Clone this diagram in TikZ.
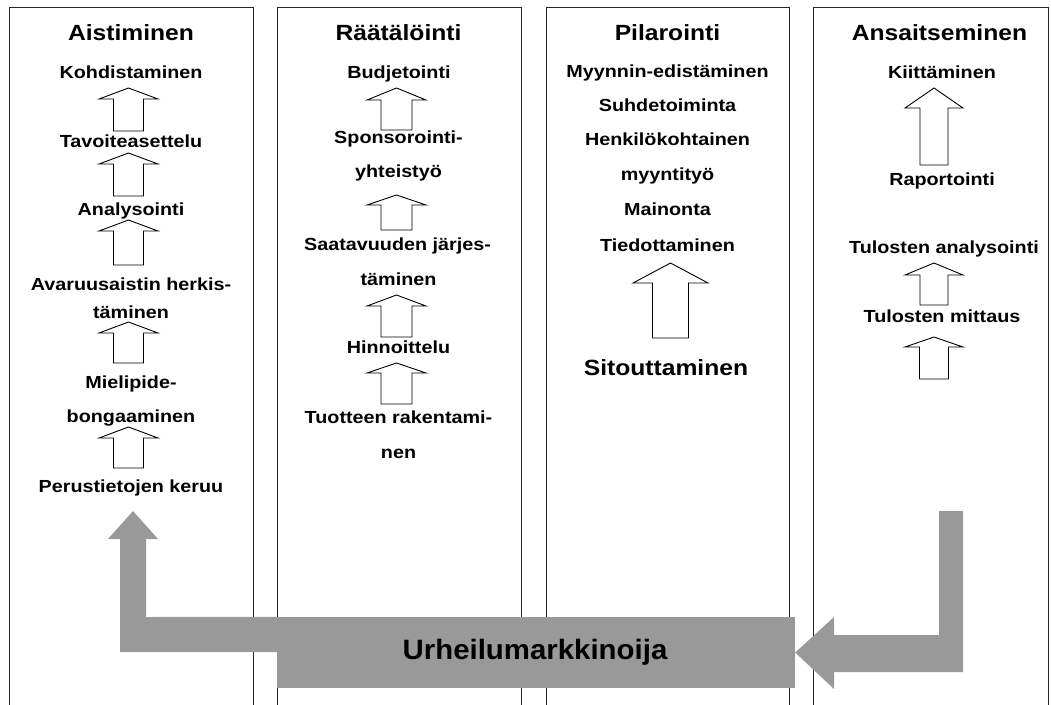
\documentclass[tikz,border=0pt]{standalone}
\usepackage{graphicx}
\usepackage{fontspec}
\setmainfont{Liberation Sans}
\definecolor{arrowgray}{HTML}{999999}
\newcommand{\hollowup}[6]{% cx, tip y, head base y, bottom y, head half width, shaft half width
  \draw[hollow] (#1,#2) -- (#1+#5,#3) -- (#1+#6,#3) -- (#1+#6,#4) -- (#1-#6,#4) -- (#1-#6,#3) -- (#1-#5,#3) -- cycle;}
\begin{document}
\begin{tikzpicture}[x=1pt,y=-1pt,
  colbox/.style={draw=black!85, line width=1pt},
  hollow/.style={draw=black, line width=0.9pt, fill=white, line join=miter},
  grayshape/.style={fill=arrowgray, draw=none},
  head/.style={font=\bfseries\fontsize{22}{26}\selectfont, anchor=base, inner sep=0pt, xscale=1.12},
  item/.style={font=\bfseries\fontsize{17.5}{21}\selectfont, anchor=base, inner sep=0pt, xscale=1.13},
  umtext/.style={font=\bfseries\fontsize{28}{32}\selectfont, anchor=base, inner sep=0pt, xscale=1.05},
]
\useasboundingbox (0,0) rectangle (1051,704);
% column frames
\draw[colbox] (9,712) -- (9,7) -- (253,7) -- (253,712);
\draw[colbox] (277,712) -- (277,7) -- (521,7) -- (521,712);
\draw[colbox] (546,712) -- (546,7) -- (789,7) -- (789,712);
\draw[colbox] (813,712) -- (813,7) -- (1048,7) -- (1048,712);

% column 1
\node[head] (h1) at (131,40) {Aistiminen};
\node[item] (a1) at (131,78) {Kohdistaminen};
\node[item] (a2) at (131,147) {Tavoiteasettelu};
\node[item] (a3) at (131,215) {Analysointi};
\node[item] (a4) at (131,290) {Avaruusaistin herkis-};
\node[item] (a4b) at (131,318) {täminen};
\node[item] (a5) at (131,388) {Mielipide-};
\node[item] (a5b) at (131,422) {bongaaminen};
\node[item] (a6) at (131,492) {Perustietojen keruu};
\hollowup{128.5}{88}{99}{131}{29.5}{15}
\hollowup{128.5}{153}{164}{196}{29.5}{15}
\hollowup{128.5}{220}{231}{265}{29.5}{15}
\hollowup{128.5}{322}{333}{363}{29.5}{15}
\hollowup{128.5}{427}{438}{468}{29.5}{15}

% column 2
\node[head] (h2) at (398.5,40) {Räätälöinti};
\node[item] (b1) at (399,78) {Budjetointi};
\node[item] (b2) at (398.5,143) {Sponsorointi-};
\node[item] (b2b) at (398.5,177) {yhteistyö};
\node[item] (b3) at (397.5,250) {Saatavuuden järjes-};
\node[item] (b3b) at (398.5,285) {täminen};
\node[item] (b4) at (398.5,353) {Hinnoittelu};
\node[item] (b5) at (398.5,423) {Tuotteen rakentami-};
\node[item] (b5b) at (398.5,458) {nen};
\hollowup{396.5}{88}{100}{130}{29.5}{15.5}
\hollowup{396.5}{195}{205}{230}{29.5}{15.5}
\hollowup{396.5}{295}{306}{337}{29.5}{15.5}
\hollowup{396.5}{363}{373}{404}{29.5}{15.5}

% column 3
\node[head] (h3) at (667.5,40) {Pilarointi};
\node[item] (p1) at (667.5,77) {Myynnin-edistäminen};
\node[item] (p2) at (667.5,111) {Suhdetoiminta};
\node[item] (p3) at (667.5,145) {Henkilökohtainen};
\node[item] (p3b) at (667.5,180) {myyntityö};
\node[item] (p4) at (667.5,215) {Mainonta};
\node[item] (p5) at (667.5,251) {Tiedottaminen};
\node[head] (p6) at (666,375) {Sitouttaminen};
\hollowup{670.5}{263}{283}{338}{37.5}{18}

% column 4
\node[head] (h4) at (939.5,40) {Ansaitseminen};
\node[item] (d1) at (942,78) {Kiittäminen};
\node[item] (d2) at (942,185) {Raportointi};
\node[item] (d3) at (944,253) {Tulosten analysointi};
\node[item] (d4) at (942,322) {Tulosten mittaus};
\hollowup{934}{88}{108}{165}{29}{14}
\hollowup{934}{263}{275}{305}{29}{14}
\hollowup{934}{337}{347}{379}{29}{14.5}

% grey feedback loop
\node[grayshape, minimum width=518pt, minimum height=71pt, inner sep=0pt] (um) at (536,652.5) {};
\node[umtext] (umt) at (535,659) {Urheilumarkkinoija};
\fill[grayshape] (um.north west) -- (146,617) -- (146,539) -- (158,539) -- (133,511)
  -- (108,539) -- (120,539) -- (120,652) -- (um.west |- 0,652) -- cycle;
\fill[grayshape] (um.east) -- (834,617) -- (834,635) -- (939,635) -- (939,511)
  -- (963,511) -- (963,672) -- (834,672) -- (834,689) -- cycle;
\end{tikzpicture}
\end{document}
